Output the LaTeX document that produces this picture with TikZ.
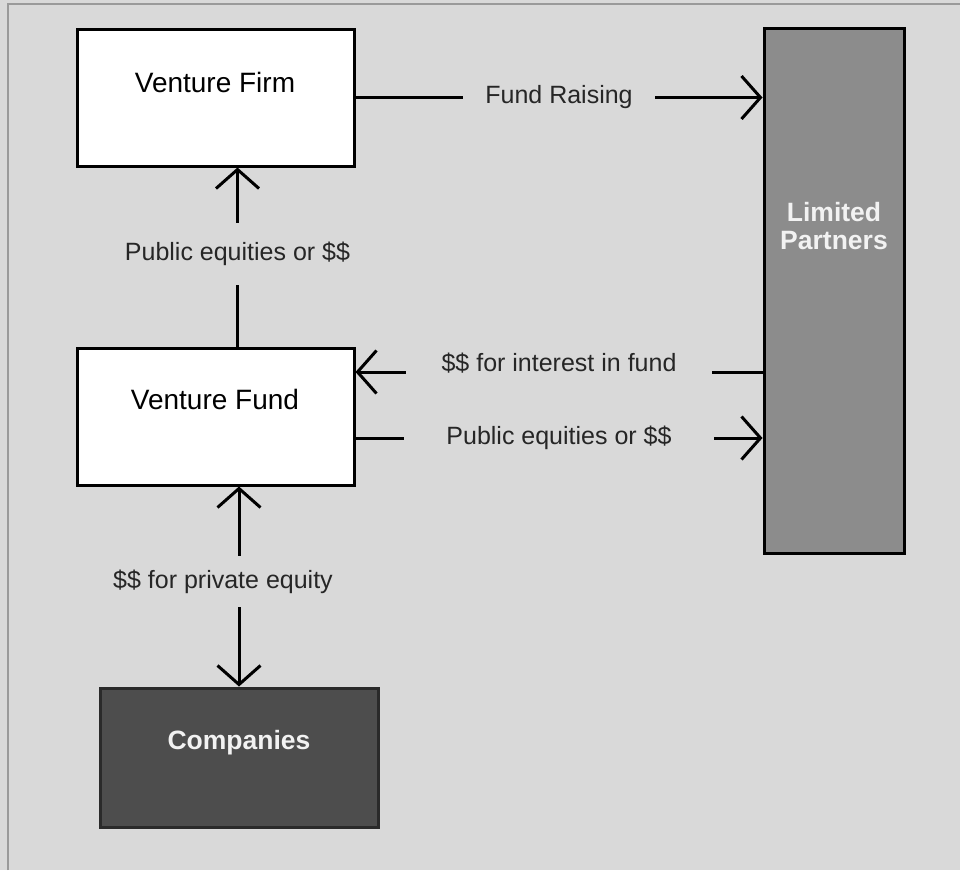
\documentclass[tikz,border=0pt]{standalone}
\usepackage{fontspec}
\setmainfont{Liberation Sans}
\usetikzlibrary{arrows.meta,calc}
\definecolor{bg}{HTML}{D9D9D9}
\definecolor{framegray}{HTML}{9A9A9A}
\definecolor{lpfill}{HTML}{8C8C8C}
\definecolor{cofill}{HTML}{4D4D4D}
\definecolor{coedge}{HTML}{2A2A2A}
\begin{document}
\begin{tikzpicture}[x=1pt,y=-1pt,
  boxbase/.style={rectangle, inner sep=0pt, line width=3pt},
  whitebox/.style={boxbase, draw=black, fill=white},
  lpbox/.style={boxbase, draw=black, fill=lpfill},
  cobox/.style={boxbase, draw=coedge, fill=cofill},
  boxtext/.style={font=\fontsize{28}{32}\selectfont, text=black, inner sep=0pt},
  whitetext/.style={font=\bfseries\fontsize{26.5}{28}\selectfont, text=white!95!black, inner sep=0pt, align=center},
  conn/.style={line width=3pt, draw=black},
  tip/.tip={Straight Barb[length=19pt,width=43pt,line width=3pt]},
  lab/.style={fill=bg, font=\fontsize{25}{28}\selectfont, text=black!85, inner ysep=16pt}
]
\useasboundingbox (0,0) rectangle (960,870);
\fill[bg] (0,0) rectangle (960,870);
\draw[framegray, line width=2pt] (8,870) -- (8,4) -- (960,4);

% boxes
\node[whitebox, minimum width=277pt, minimum height=137pt] (firm) at (215.5,97.5) {};
\node[whitebox, minimum width=277pt, minimum height=137pt] (fund) at (215.5,416.5) {};
\node[cobox, minimum width=278pt, minimum height=139pt] (comp) at (239,757.5) {};
\node[lpbox, minimum width=140pt, minimum height=525pt] (lp) at (834,290.5) {};

% box texts
\node[boxtext] (firmtxt) at (215,82) {Venture Firm};
\node[boxtext] (fundtxt) at (215,399) {Venture Fund};
\node[whitetext] (comptxt) at (239,743) {Companies};
\node[whitetext] (lptxt) at (834,226) {Limited\\Partners};

% connector anchor points
\coordinate (fundtop) at ($(fund.north)+(22,0)$);
\coordinate (firmbot) at ($(firm.south)+(22,0)$);
\coordinate (fundbot) at ($(fund.south)+(22,0)$);
\coordinate (comptop) at (comp.north);
\coordinate (fundA) at ($(fund.east)+(0,-44.5)$);
\coordinate (fundB) at ($(fund.east)+(0,21.5)$);

% connectors
\draw[conn, -tip] (firm.east) -- (firm.east -| lp.west)
  node[midway, lab, inner xsep=22pt] (l1) {Fund Raising};
\draw[conn, -tip] (fundtop) -- (firmbot)
  node[midway, lab, inner xsep=4pt, inner ysep=19pt, yshift=3pt] (l2) {Public equities or \$\$};
\draw[conn, tip-tip] (fundbot -| comptop) -- (comptop)
  node[midway, lab, inner xsep=4pt, inner ysep=14pt, xshift=-16pt, yshift=5pt] (l3) {\$\$ for private equity};
\draw[conn, -tip] (fundA -| lp.west) -- (fundA)
  node[midway, lab, inner xsep=36pt, yshift=9pt] (l4) {\$\$ for interest in fund};
\draw[conn, -tip] (fundB) -- (fundB -| lp.west)
  node[midway, lab, inner xsep=42pt] (l5) {Public equities or \$\$};
\end{tikzpicture}
\end{document}
